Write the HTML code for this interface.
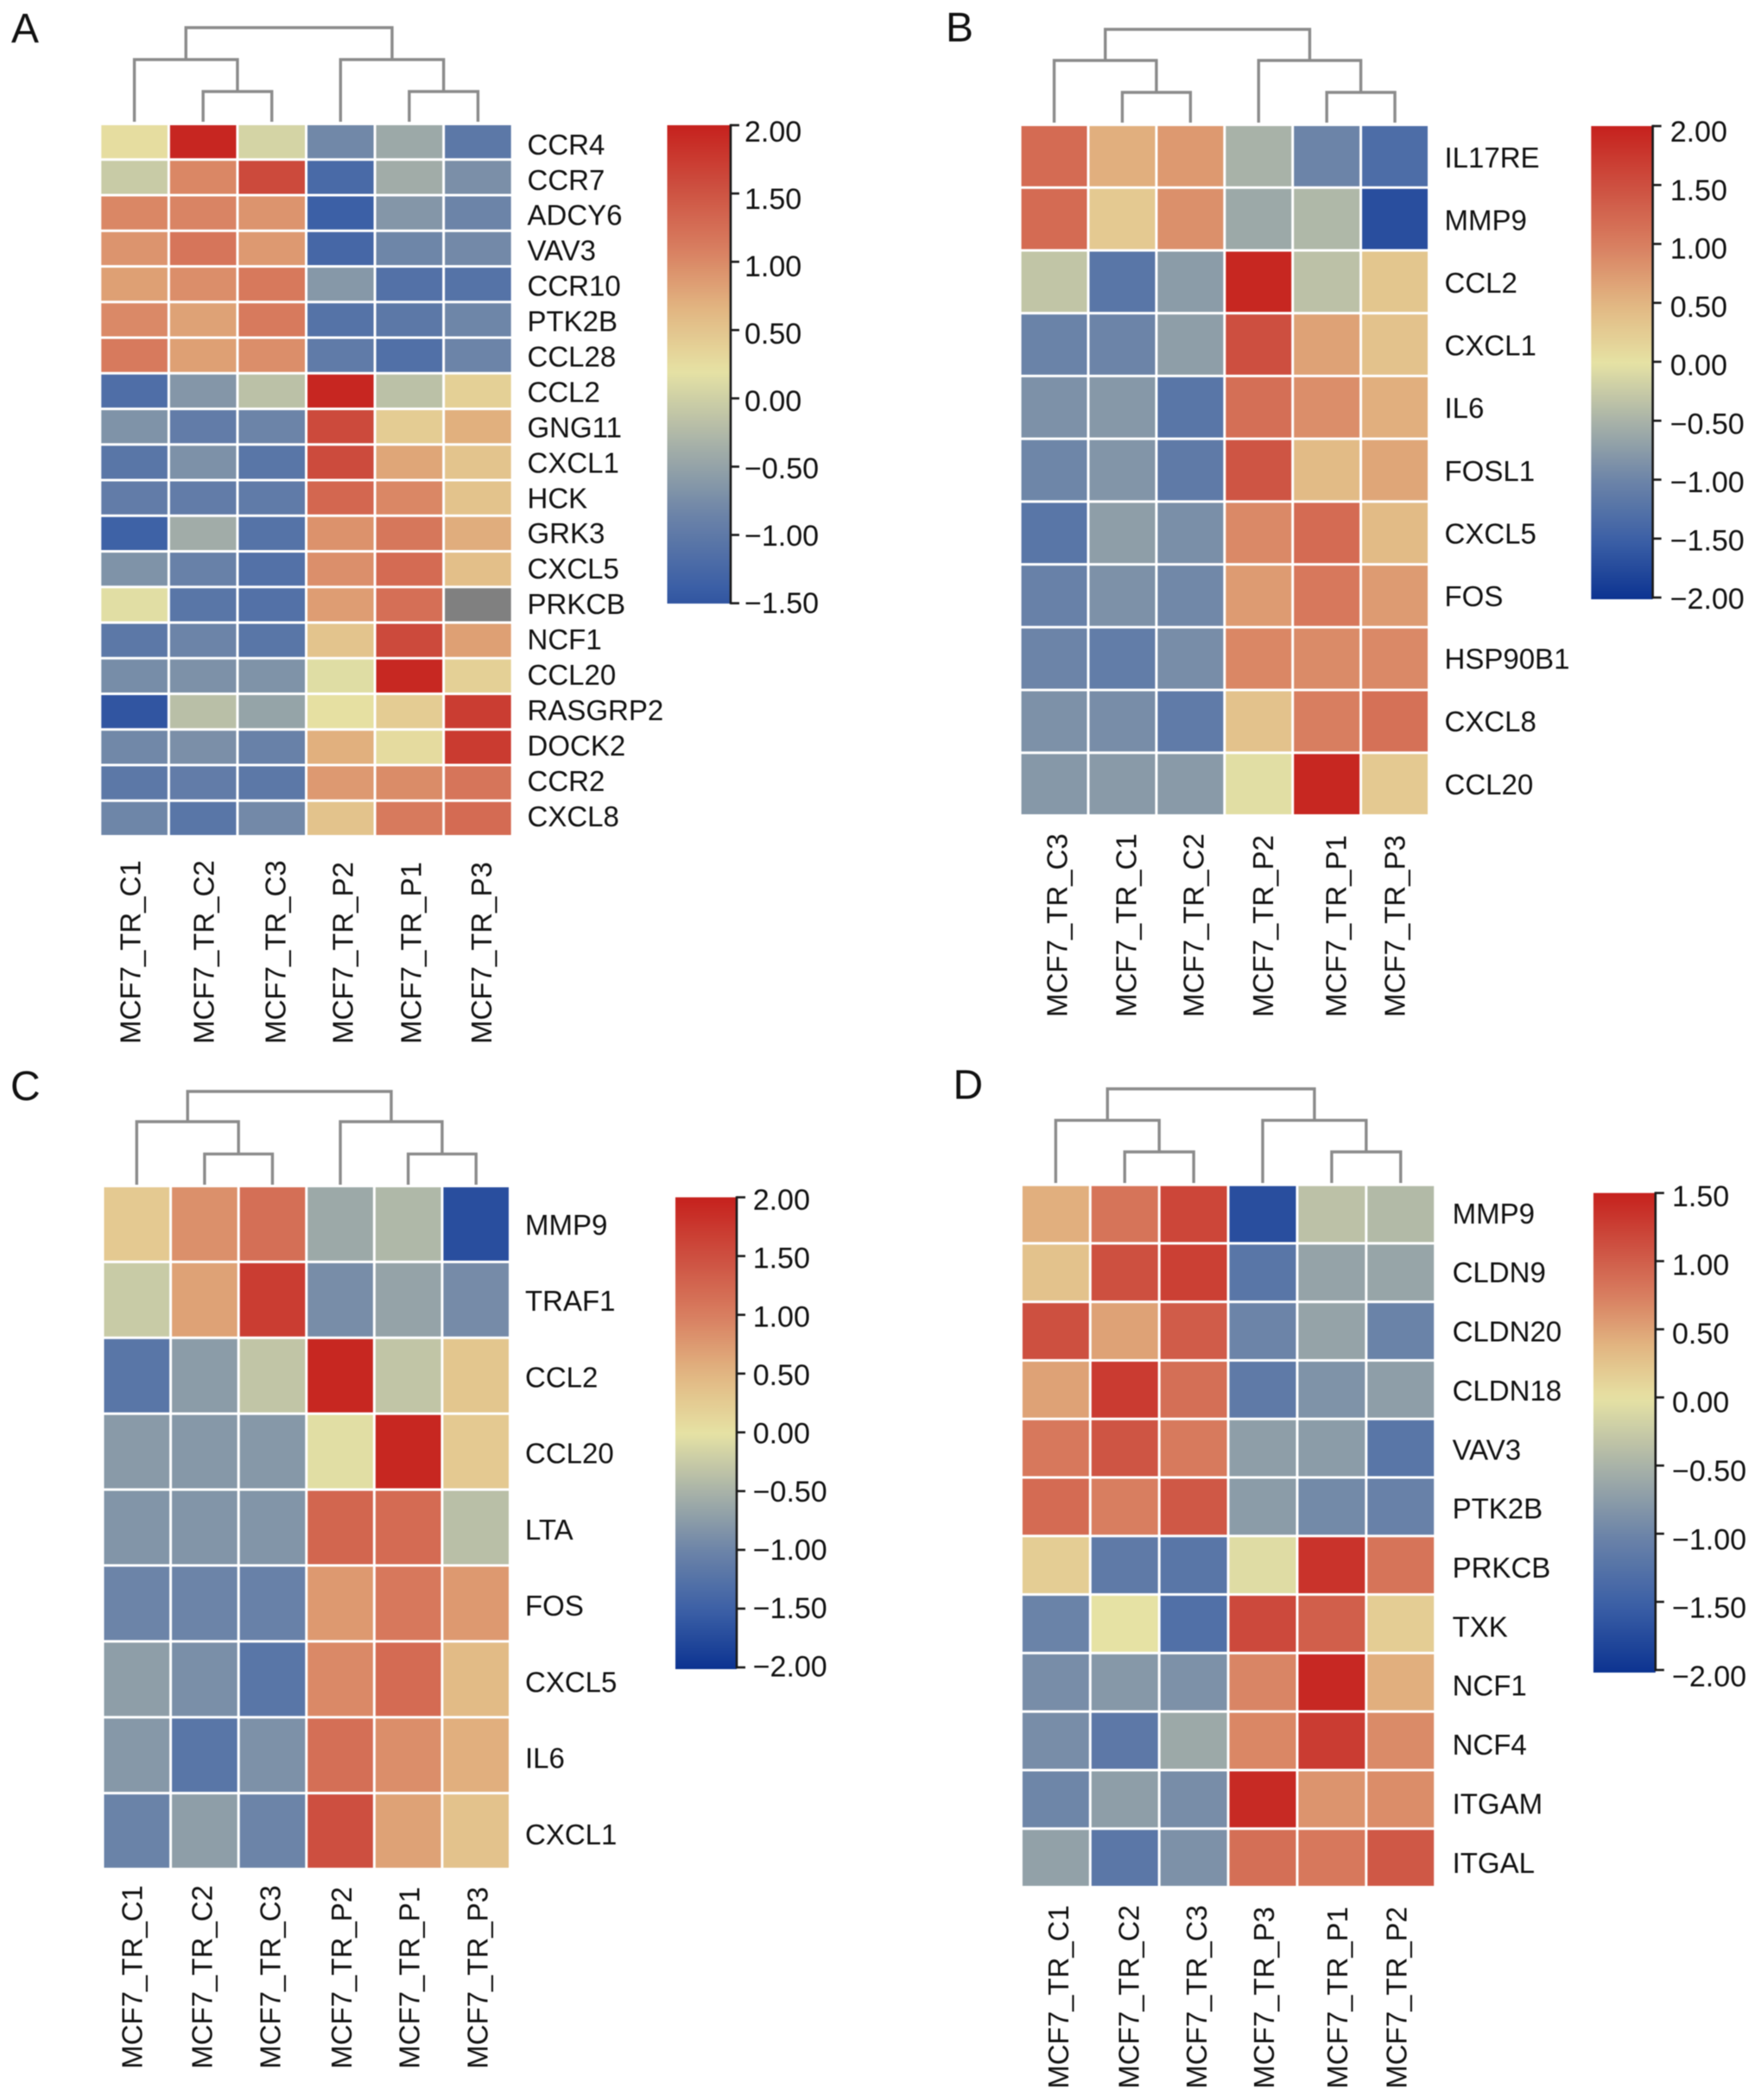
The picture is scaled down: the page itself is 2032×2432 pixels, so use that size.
<!DOCTYPE html>
<html lang="en">
<head>
<meta charset="utf-8">
<title>Heatmaps A-D</title>
<style>
html,body{margin:0;padding:0;background:#fff;width:2032px;height:2432px;overflow:hidden}
svg{display:block;filter:blur(.5px)}
text{font-family:"Liberation Sans",sans-serif;fill:#111}
</style>
</head>
<body>
<svg id="figure" xmlns="http://www.w3.org/2000/svg" width="2032" height="2432" viewBox="0 0 2032 2432"></svg>
<script>
/* ---------- Panel A data ---------- */
const panelAColumns = ["MCF7_TR_C1","MCF7_TR_C2","MCF7_TR_C3","MCF7_TR_P2","MCF7_TR_P1","MCF7_TR_P3"];
const panelARows = ["CCR4","CCR7","ADCY6","VAV3","CCR10","PTK2B","CCL28","CCL2","GNG11","CXCL1","HCK","GRK3","CXCL5","PRKCB","NCF1","CCL20","RASGRP2","DOCK2","CCR2","CXCL8"];
const panelAValues = [
[.25,1.95,.05,-.81,-.43,-1.02],
[-.05,1.03,1.6,-1.23,-.39,-.72],
[1.03,1.05,.92,-1.38,-.64,-.85],
[.92,1.19,.88,-1.27,-.83,-.79],
[.83,.97,1.15,-.62,-1.12,-1.1],
[1.01,.81,1.14,-1.1,-1.02,-.83],
[1.14,.83,.97,-.98,-1.14,-.85],
[-1.17,-.64,-.16,1.95,-.16,.38],
[-.68,-.96,-.85,1.6,.42,.7],
[-1.06,-.7,-1.06,1.59,.78,.51],
[-.96,-.96,-.98,1.32,1.03,.52],
[-1.35,-.39,-1.1,.94,1.17,.72],
[-.68,-.89,-1.12,.96,1.28,.56],
[.16,-1.06,-1.12,.85,1.24,null],
[-1.02,-.85,-1.06,.51,1.6,.83],
[-.75,-.7,-.68,.14,1.93,.38],
[-1.5,-.18,-.49,.22,.42,1.73],
[-.81,-.72,-.89,.7,.27,1.75],
[-1.02,-.96,-1.02,.88,.99,1.19],
[-.83,-1.06,-.79,.52,1.14,1.28]
];
const panelATicks = [2,1.5,1,0.5,0,-0.5,-1,-1.5];
const panelAColorDomain = [-1.9,0.2,2];

/* ---------- Panel B data ---------- */
const panelBColumns = ["MCF7_TR_C3","MCF7_TR_C1","MCF7_TR_C2","MCF7_TR_P2","MCF7_TR_P1","MCF7_TR_P3"];
const panelBRows = ["IL17RE","MMP9","CCL2","CXCL1","IL6","FOSL1","CXCL5","FOS","HSP90B1","CXCL8","CCL20"];
const panelBValues = [
[1.2,.56,.76,-.5,-1,-1.32],
[1.2,.28,.84,-.6,-.44,-1.7],
[-.3,-1.2,-.74,1.94,-.34,.32],
[-1.02,-1,-.72,1.5,.68,.36],
[-.86,-.78,-1.2,1.16,.86,.56],
[-.98,-.82,-1.14,1.44,.44,.64],
[-1.2,-.72,-.88,.9,1.2,.44],
[-1.04,-.86,-.96,.74,1.06,.74],
[-1,-1.1,-.9,.92,.88,.9],
[-.86,-.9,-1.12,.36,1,1.14],
[-.78,-.76,-.76,-.04,1.94,.28]
];
const panelBTicks = [2,1.5,1,0.5,0,-0.5,-1,-1.5,-2];
const panelBColorDomain = [-2,0,2];

/* ---------- Panel C data ---------- */
const panelCColumns = ["MCF7_TR_C1","MCF7_TR_C2","MCF7_TR_C3","MCF7_TR_P2","MCF7_TR_P1","MCF7_TR_P3"];
const panelCRows = ["MMP9","TRAF1","CCL2","CCL20","LTA","FOS","CXCL5","IL6","CXCL1"];
const panelCValues = [
[.28,.84,1.16,-.6,-.44,-1.7],
[-.24,.68,1.7,-.9,-.66,-.92],
[-1.2,-.74,-.3,1.94,-.3,.32],
[-.76,-.78,-.78,-.04,1.94,.28],
[-.82,-.82,-.82,1.26,1.2,-.36],
[-1,-1,-1.04,.76,1.06,.76],
[-.72,-.88,-1.2,.9,1.2,.44],
[-.78,-1.2,-.86,1.16,.86,.56],
[-1.02,-.72,-1,1.5,.68,.36]
];
const panelCTicks = [2,1.5,1,0.5,0,-0.5,-1,-1.5,-2];
const panelCColorDomain = [-2,0,2];

/* ---------- Panel D data ---------- */
const panelDColumns = ["MCF7_TR_C1","MCF7_TR_C2","MCF7_TR_C3","MCF7_TR_P3","MCF7_TR_P1","MCF7_TR_P2"];
const panelDRows = ["MMP9","CLDN9","CLDN20","CLDN18","VAV3","PTK2B","PRKCB","TXK","NCF1","NCF4","ITGAM","ITGAL"];
const panelDValues = [
[.42,.83,1.2,-1.7,-.34,-.42],
[.27,1.12,1.25,-1.2,-.66,-.64],
[1.12,.51,1.02,-1,-.66,-1.02],
[.51,1.29,.87,-1.14,-.84,-.72],
[.8,1.08,.78,-.72,-.74,-1.2],
[.9,.75,1.05,-.74,-.94,-1.04],
[.18,-1.14,-1.2,-.06,1.35,.83],
[-1.02,0,-1.28,1.17,1,.18],
[-.9,-.78,-.86,.7,1.44,.42],
[-.9,-1.16,-.6,.69,1.28,.66],
[-.98,-.72,-.9,1.43,.6,.65],
[-.68,-1.18,-.86,.87,.8,1.05]
];
const panelDTicks = [1.5,1,0.5,0,-0.5,-1,-1.5,-2];
const panelDColorDomain = [-2,0,1.5];

/* ---------- Dendrogram topology (column indexes, shared) ---------- */
const dendroTree = [[0,[1,2]],[3,[4,5]]];

/* ---------- Colour map ---------- */
const colorPositions = [-1,-.75,-.5,-.25,0,.25,.5,.75,1];
const colorValues = ["#0c3391","#3c60a6","#6c84a8","#a8b2a8","#e6e2a4","#e2b682","#d87e60","#cd4f40","#c6211d"];
const missingColor = "#808080";

/* ---------- Layouts ---------- */
const layouts = {
  A:{letter:[13,49],x:[117.3,591.7],y:[145,967],dendro:[32,69,106,141],xLabelBottom:1209,xLabelNudge:[-5,.6,4,2.6,2,4],yLabelX:610.5,yLabelCenters:[167,945],bar:[772.5,846,145,699],tickY:[145,698.6],tickLabelY:[151.8,697.8],tickLabelX:862},
  B:{letter:[1095,48],x:[1182.6,1653],y:[146,943],dendro:[34,70,107,142],xLabelBottom:1178,xLabelNudge:[2.9,4.2,3.4,5,10.6,-.3],yLabelX:1672.5,yLabelCenters:[182,908],bar:[1842.3,1913.6,146,694],tickY:[146,692],tickLabelY:[152,693],tickLabelX:1933.7},
  C:{letter:[12,1274],x:[120.5,589],y:[1375,2163],dendro:[1264,1299,1336.4,1372],xLabelBottom:2396,xLabelNudge:[-5.5,-3,-2.7,1.2,1,1.5],yLabelX:608,yLabelCenters:[1418,2124],bar:[782,853,1386.6,1933],tickY:[1386.6,1931],tickLabelY:[1389,1929.5],tickLabelX:871.7},
  D:{letter:[1103.5,1272.5],x:[1183.9,1660.2],y:[1373.6,2184],dendro:[1261,1297.4,1334,1370],xLabelBottom:2419,xLabelNudge:[3,4.6,3,1.3,6.3,-5],yLabelX:1681.6,yLabelCenters:[1405,2157],bar:[1844.9,1916.8,1381.6,1937],tickY:[1381.6,1934],tickLabelY:[1385,1941],tickLabelX:1936}
};
const panels = [
  {id:"A",columns:panelAColumns,rows:panelARows,values:panelAValues,ticks:panelATicks,domain:panelAColorDomain},
  {id:"B",columns:panelBColumns,rows:panelBRows,values:panelBValues,ticks:panelBTicks,domain:panelBColorDomain},
  {id:"C",columns:panelCColumns,rows:panelCRows,values:panelCValues,ticks:panelCTicks,domain:panelCColorDomain},
  {id:"D",columns:panelDColumns,rows:panelDRows,values:panelDValues,ticks:panelDTicks,domain:panelDColorDomain}
];

const NS = "http://www.w3.org/2000/svg";
const root = document.getElementById("figure");
const CELL_GAP = 3;
const LABEL_FS = 33;
const TICK_FS = 34;

function mk(tag, attrs, parent){
  const el = document.createElementNS(NS, tag);
  for (const k in attrs) el.setAttribute(k, attrs[k]);
  parent.appendChild(el);
  return el;
}
function hexRgb(h){
  return [parseInt(h.slice(1,3),16),parseInt(h.slice(3,5),16),parseInt(h.slice(5,7),16)];
}
function mapColor(n){
  n = Math.max(-1, Math.min(1, n));
  let i = 0;
  while (i < colorPositions.length - 2 && n > colorPositions[i+1]) i++;
  const t = (n - colorPositions[i]) / (colorPositions[i+1] - colorPositions[i]);
  const a = hexRgb(colorValues[i]);
  const b = hexRgb(colorValues[i+1]);
  return "rgb(" + a.map((v,k)=>Math.round(v + (b[k]-v)*t)).join(",") + ")";
}
function valueColor(v, domain){
  if (v === null) return missingColor;
  const n = v >= domain[1] ? (v-domain[1])/(domain[2]-domain[1]) : (v-domain[1])/(domain[1]-domain[0]);
  return mapColor(n);
}
function linear(d0,d1,r0,r1){
  return function(v){ return r0 + (v-d0)/(d1-d0)*(r1-r0); };
}
function fmtTick(v){
  return v.toFixed(2).replace("-", "\u2212");
}

panels.forEach(function(p){
  const L = layouts[p.id];
  const lname = p.id.toLowerCase();
  const g = mk("g", {}, root);
  
  

  /* panel letter */
  const letter = mk("text", {x:L.letter[0], y:L.letter[1], "font-size":48}, g);
  letter.textContent = p.id;
  
  

  /* axis functions */
  const nc = p.columns.length, nr = p.rows.length;
  const colPitch = (L.x[1]-L.x[0]+CELL_GAP)/nc;
  const rowPitch = (L.y[1]-L.y[0]+CELL_GAP)/nr;
  const colLeft = function(i){ return L.x[0] + i*colPitch; };
  const rowTop = function(j){ return L.y[0] + j*rowPitch; };
  const colCenter = function(i){ return colLeft(i) + (colPitch-CELL_GAP)/2; };

  /* heatmap cells */
  const cells = mk("g", {}, g);
  
  
  p.values.forEach(function(row, j){
    row.forEach(function(v, i){
      const r = mk("rect", {x:colLeft(i), y:rowTop(j), width:colPitch-CELL_GAP, height:rowPitch-CELL_GAP, fill:valueColor(v,p.domain)}, cells);
      
      
    });
  });

  /* dendrogram */
  const dg = mk("g", {fill:"none", stroke:"#8b8b8b", "stroke-width":3.4}, g);
  
  
  const levelY = L.dendro;
  function drawNode(node, depth){
    if (typeof node === "number") return colCenter(node);
    const ly = levelY[depth];
    const childY = function(c){ return typeof c === "number" ? levelY[3] : levelY[depth+1]; };
    const xa = drawNode(node[0], depth+1);
    const xb = drawNode(node[1], depth+1);
    const path = mk("path", {d:"M"+xa+" "+childY(node[0])+"V"+ly+"H"+xb+"V"+childY(node[1])}, dg);
    
    
    return (xa+xb)/2;
  }
  drawNode(dendroTree, 0);

  /* row labels */
  const labelY = linear(0, nr-1, L.yLabelCenters[0], L.yLabelCenters[1]);
  p.rows.forEach(function(name, j){
    const t = mk("text", {x:L.yLabelX, y:labelY(j)+LABEL_FS*0.358, "font-size":LABEL_FS}, g);
    t.textContent = name;
    
    
  });

  /* column labels */
  p.columns.forEach(function(name, i){
    const bx = colCenter(i) + L.xLabelNudge[i] + LABEL_FS*0.358;
    const t = mk("text", {x:bx, y:L.xLabelBottom, "font-size":LABEL_FS, transform:"rotate(-90 "+bx+" "+L.xLabelBottom+")"}, g);
    t.textContent = name;
    
    
  });

  /* colour bar */
  const tickMax = p.ticks[0], tickMin = p.ticks[p.ticks.length-1];
  const tickY = linear(tickMax, tickMin, L.tickY[0], L.tickY[1]);
  const tickLabelY = linear(tickMax, tickMin, L.tickLabelY[0], L.tickLabelY[1]);
  const barTop = L.bar[2], barBottom = L.bar[3];
  const defs = mk("defs", {}, g);
  const grad = mk("linearGradient", {id:"bar-grad-"+lname, x1:0, y1:0, x2:0, y2:1}, defs);
  const steps = 60;
  for (let s = 0; s <= steps; s++){
    const f = s/steps;
    const val = tickMax + (tickMin-tickMax)*f;
    mk("stop", {offset:f, "stop-color":valueColor(val,p.domain)}, grad);
  }
  const bar = mk("rect", {x:L.bar[0], y:barTop, width:L.bar[1]-L.bar[0], height:barBottom-barTop, fill:"url(#bar-grad-"+lname+")"}, g);
  
  
  const axis = mk("line", {x1:L.bar[1], x2:L.bar[1], y1:tickY(tickMax)-1.2, y2:tickY(tickMin)+1.2, stroke:"#1a1a1a", "stroke-width":2.6}, g);
  
  
  p.ticks.forEach(function(v){
    const tk = mk("line", {x1:L.bar[1], x2:L.bar[1]+10, y1:tickY(v), y2:tickY(v), stroke:"#1a1a1a", "stroke-width":2.6}, g);
    
    
    const t = mk("text", {x:L.tickLabelX, y:tickLabelY(v)+TICK_FS*0.358, "font-size":TICK_FS}, g);
    t.textContent = fmtTick(v);
    
    
  });
});
</script>
</body>
</html>
